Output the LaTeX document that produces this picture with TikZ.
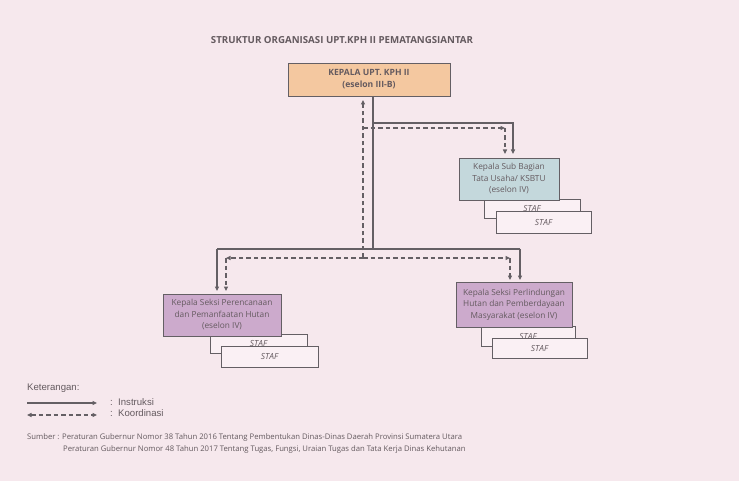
\documentclass[tikz,border=0pt]{standalone}
\usepackage{fontspec}
\setmainfont{Open Sans}
\newfontfamily\legendfont{Liberation Sans}
\usetikzlibrary{arrows.meta}
\definecolor{bg}{RGB}{246,232,237}
\definecolor{ln}{RGB}{100,95,100}
\definecolor{tx}{RGB}{100,90,95}
\definecolor{orangebox}{RGB}{244,200,160}
\definecolor{bluebox}{RGB}{196,216,220}
\definecolor{purplebox}{RGB}{204,170,204}
\definecolor{stafbox}{RGB}{250,240,244}
\tikzset{
  box/.style={draw=ln, line width=0.7pt, align=center, inner sep=1pt, text=tx, font=\fontsize{8.3}{11.5}\selectfont},
  stafnode/.style={draw=ln, line width=0.7pt, fill=stafbox, text=tx, font=\fontsize{8.4}{9}\selectfont\itshape, inner sep=0pt},
  solidln/.style={draw=ln, line width=1.2pt},
  dashln/.style={draw=ln, line width=1.1pt, dash pattern=on 4.5pt off 3pt},
  tip/.style={-{Triangle[length=4.5pt,width=4pt]}},
  txt/.style={text=tx, inner sep=0pt, anchor=west},
}
\begin{document}
\begin{tikzpicture}[x=1pt,y=-1pt]
\fill[bg] (0,0) rectangle (739,481);
\useasboundingbox (0,0) rectangle (739,481);

\node[text=tx, font=\fontsize{9.7}{11}\selectfont\bfseries] (title) at (342,40) {STRUKTUR ORGANISASI UPT.KPH II PEMATANGSIANTAR};

\node[box, fill=orangebox, minimum width=162pt, minimum height=33pt, font=\fontsize{8.6}{12}\selectfont\bfseries] (kepala) at (369,79.5) {KEPALA UPT. KPH II\\(eselon III-B)};

\node[stafnode, minimum width=96pt, minimum height=19pt] (k1) at (532,208.5) {STAF};
\node[stafnode, minimum width=95pt, minimum height=22pt] (k2) at (543.5,222) {STAF};
\node[box, fill=bluebox, minimum width=100pt, minimum height=42pt] (ksbtu) at (509,179) {Kepala Sub Bagian\\Tata Usaha/ KSBTU\\(eselon IV)};

\node[stafnode, minimum width=97pt, minimum height=19pt] (l1) at (258.5,343.5) {STAF};
\node[stafnode, minimum width=97pt, minimum height=21pt] (l2) at (269.5,356.5) {STAF};
\node[box, fill=purplebox, minimum width=118pt, minimum height=42pt] (kiri) at (222,315) {Kepala Seksi Perencanaan\\dan Pemanfaatan Hutan\\(eselon IV)};

\node[stafnode, minimum width=94pt, minimum height=20pt] (r1) at (528,336) {STAF};
\node[stafnode, minimum width=95pt, minimum height=20pt] (r2) at (539.5,348) {STAF};
\node[box, fill=purplebox, minimum width=116pt, minimum height=45pt] (kanan) at (514,304.5) {Kepala Seksi Perlindungan\\Hutan dan Pemberdayaan\\Masyarakat (eselon IV)};

% coordinates
\coordinate (trtop) at (373,96);
\coordinate (trbot) at (373,249);
\coordinate (ka) at (373,123);
\coordinate (kb) at (513,123);
\coordinate (kc) at (513,154);
\coordinate (la) at (217,249);
\coordinate (lb) at (217,291);
\coordinate (ra) at (520,249);
\coordinate (rb) at (520,280);

% solid instruksi lines
\draw[solidln] (trtop) -- (trbot);
\draw[solidln, tip] (ka) -- (kb) -- (kc);
\draw[solidln] (la) -- (ra);
\draw[solidln, tip] (la) -- (lb);
\draw[solidln, tip] (ra) -- (rb);

% dashed koordinasi lines
\coordinate (dbot) at (363,258);
\coordinate (dtop) at (363,100);
\coordinate (da) at (363,128);
\coordinate (db) at (505,128);
\coordinate (dc) at (505,154);
\coordinate (dl) at (226,258);
\coordinate (dld) at (226,291);
\coordinate (dr) at (510,258);
\coordinate (drd) at (510,280);
\draw[dashln, tip] (dbot) -- (dtop);
\draw[dashln, tip] (da) -- (db);
\draw[dashln, tip] (db) -- (dc);
\draw[dashln, tip] (dbot) -- (dl);
\draw[dashln, tip] (dl) -- (dld);
\draw[dashln, tip] (dbot) -- (dr);
\draw[dashln, tip] (dr) -- (drd);

% legend
\node[txt, font=\legendfont\fontsize{9.6}{11}\selectfont] (ket) at (27,388) {Keterangan:};
\coordinate (s1) at (27,403);
\coordinate (s2) at (97,403);
\coordinate (d1) at (27,415);
\coordinate (d2) at (97,415);
\draw[solidln, tip] (s1) -- (s2);
\draw[dashln, {Triangle[length=4.5pt,width=4pt]}-{Triangle[length=4.5pt,width=4pt]}] (d1) -- (d2);
\node[txt, font=\legendfont\fontsize{9.6}{11}\selectfont] (ins) at (110,402) {:\ \ Instruksi};
\node[txt, font=\legendfont\fontsize{9.6}{11}\selectfont] (koo) at (110,413) {:\ \ Koordinasi};

\node[txt, font=\fontsize{7.7}{9}\selectfont] (sum1) at (27,437) {Sumber : Peraturan Gubernur Nomor 38 Tahun 2016 Tentang Pembentukan Dinas-Dinas Daerah Provinsi Sumatera Utara};
\node[txt, font=\fontsize{7.7}{9}\selectfont] (sum2) at (63,449) {Peraturan Gubernur Nomor 48 Tahun 2017 Tentang Tugas, Fungsi, Uraian Tugas dan Tata Kerja Dinas Kehutanan};
\end{tikzpicture}
\end{document}
